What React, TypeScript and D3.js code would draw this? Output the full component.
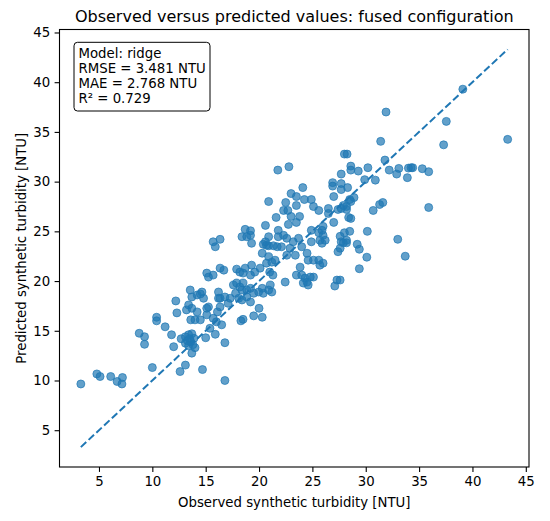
import React, { useEffect, useRef } from "react";
import * as d3 from "d3";

// observed vs predicted turbidity
const observed = [
  31.9, 37.55, 43.3, 31.4, 37.3, 28.0, 28.25, 31.8, 28.6, 28.6, 30.2, 29.3, 32.2, 33.1, 32.9, 34.0,
  34.25, 34.4, 35.3, 35.9, 33.9, 27.7, 29.9, 30.9, 27.7, 27.7, 28.3, 28.9, 28.5, 28.6, 27.7, 28.2,
  28.2, 30.7, 31.3, 31.6, 35.9, 28.4, 28.6, 28.0, 28.5, 30.15, 27.6, 27.9, 28.2, 29.2, 33.0, 27.6,
  29.4, 30.1, 33.7, 29.4, 27.6, 39.1, 22.8, 21.76, 24.1, 23.0, 23.5, 24.9, 26.9, 26.9, 24.25, 20.9,
  22.5, 23.5, 25.1, 25.6, 26.5, 26.5, 27.0, 27.4, 27.9, 22.3, 22.7, 21.6, 23.0, 23.8, 22.75, 23.5,
  20.6, 27.0, 26.0, 25.9, 24.9, 21.8, 18.7, 19.2, 18.4, 18.85, 19.2, 19.3, 15.7, 16.35, 15.9, 20.9,
  21.8, 22.3, 22.6, 20.4, 20.9, 21.35, 23.7, 24.0, 24.9, 25.6, 26.0, 25.9, 22.9, 3.3, 4.8, 5.1,
  6.1, 6.7, 7.15, 7.2, 10.0, 12.6, 13.1, 14.7, 8.77, 9.27, 9.27, 10.4, 10.4, 11.2, 11.8, 12.2,
  12.3, 12.0, 12.7, 13.1, 13.4, 13.7, 13.9, 13.1, 13.6, 14.0, 13.7, 15.0, 15.9, 13.55, 14.65, 13.7,
  14.2, 14.5, 14.8, 13.4, 13.7, 13.2, 14.2, 13.6, 14.0, 14.5, 15.1, 15.26, 15.7, 15.1, 15.7, 16.0,
  15.26, 16.2, 16.2, 16.8, 16.8, 16.5, 15.4, 15.1, 16.1, 16.35, 16.35, 16.8, 17.3, 17.1, 17.6, 17.9,
  18.2, 18.5, 18.4, 18.85, 19.2, 17.8, 18.1, 18.4, 18.85, 19.2, 19.5, 19.96, 20.3, 20.4, 20.0, 19.5,
  20.3, 18.5, 18.3, 20.9, 21.2, 21.05, 21.3, 20.7, 21.2, 21.5, 21.0, 22.45, 19.6, 20.1, 19.3, 18.7,
  18.5, 19.2, 17.9, 18.2, 16.35, 16.7, 20.3, 20.9, 20.7, 20.6, 21.7, 22.1, 23.4, 22.6, 23.85, 23.5,
  24.0, 24.3, 24.5, 24.8, 25.1, 24.15, 24.6, 24.6, 25.1, 25.6, 26.0, 25.7, 24.5, 23.2, 27.3, 27.1,
  27.4, 27.7, 28.2, 25.7, 26.2, 13.3, 13.5, 13.8, 13.4,
];
const predicted = [
  37.0, 36.06, 34.25, 34.05, 33.7, 32.77, 32.77, 32.17, 31.56, 31.16, 31.4, 31.06, 31.16, 31.33, 30.76, 31.36,
  31.4, 31.4, 31.3, 31.0, 30.4, 30.76, 30.2, 30.15, 29.8, 29.2, 29.4, 28.4, 28.2, 28.0, 27.3, 27.5,
  27.2, 27.1, 27.7, 27.9, 27.4, 26.4, 26.3, 24.86, 25.0, 25.0, 24.5, 23.85, 23.85, 23.7, 24.2, 23.3,
  23.2, 22.4, 22.5, 21.24, 20.1, 39.3, 31.5, 31.16, 29.4, 28.8, 28.5, 28.2, 29.9, 29.55, 28.2, 28.0,
  27.9, 27.6, 27.5, 27.1, 27.3, 26.8, 28.5, 27.2, 27.6, 27.1, 27.1, 26.4, 26.5, 26.5, 25.7, 25.9,
  25.6, 25.9, 25.5, 25.1, 25.1, 25.1, 25.2, 25.06, 24.46, 24.46, 24.6, 23.8, 23.95, 24.2, 23.45, 24.46,
  24.46, 24.6, 24.3, 23.7, 23.55, 23.55, 24.3, 23.45, 23.95, 24.86, 24.6, 23.8, 23.3, 9.65, 10.66, 10.4,
  10.4, 9.9, 9.65, 10.3, 11.3, 10.9, 11.55, 11.1, 14.75, 14.4, 13.64, 16.36, 16.0, 15.4, 14.6, 18.0,
  16.8, 13.4, 14.2, 14.4, 14.6, 14.7, 14.25, 13.75, 13.9, 13.3, 12.75, 14.3, 14.65, 19.1, 18.9, 18.4,
  18.6, 18.7, 18.27, 17.6, 17.26, 17.1, 16.9, 16.1, 16.1, 16.1, 20.8, 20.4, 20.6, 16.6, 16.26, 15.9,
  17.4, 18.27, 18.9, 13.8, 10.0, 15.6, 15.25, 17.26, 16.9, 17.4, 18.27, 18.4, 18.27, 17.76, 19.6, 19.8,
  19.4, 19.8, 19.1, 19.1, 19.27, 18.77, 18.27, 18.1, 18.4, 17.9, 18.77, 18.9, 19.27, 18.77, 17.26, 16.5,
  16.36, 16.15, 16.0, 19.1, 18.9, 19.6, 20.6, 21.8, 21.9, 22.1, 20.9, 19.9, 20.9, 21.3, 21.6, 21.3,
  20.8, 20.6, 21.2, 20.9, 21.3, 21.1, 22.8, 22.45, 23.6, 23.95, 23.45, 23.45, 22.6, 22.6, 21.4, 20.6,
  20.6, 20.3, 19.9, 20.4, 20.4, 19.8, 19.6, 22.1, 22.1, 22.1, 21.8, 21.6, 22.8, 23.95, 20.1, 19.5,
  22.95, 23.95, 24.1, 24.1, 24.1, 14.0, 14.2, 13.6, 13.5,
];
const ticks = [5, 10, 15, 20, 25, 30, 35, 40, 45];
const statsLines = ["Model: ridge", "RMSE = 3.481 NTU", "MAE = 2.768 NTU", "R\u00b2 = 0.729"];

const font = "'DejaVu Sans', sans-serif";

function ScatterChart() {
  const ref = useRef<SVGSVGElement | null>(null);

  useEffect(() => {
    var margin = { top: 29.5, right: 21, bottom: 54, left: 59.5 },
      width = 550 - margin.left - margin.right,
      height = 521 - margin.top - margin.bottom;

    var root = d3.select(ref.current);
    root.selectAll("*").remove();
    var svg = root.append("g").attr("transform", "translate(" + margin.left + "," + margin.top + ")");

    // shared limits: data range padded by 2 on each side
    var lo = Math.min(d3.min(observed)!, d3.min(predicted)!);
    var hi = Math.max(d3.max(observed)!, d3.max(predicted)!);
    var x = d3.scaleLinear().domain([lo - 2, hi + 2]).range([0, width]);
    var y = d3.scaleLinear().domain([lo - 2, hi + 2]).range([height, 0]);

    // points
    svg
      .selectAll("circle")
      .data(observed.map((d, i) => [d, predicted[i]]))
      .enter()
      .append("circle")
      .attr("cx", (d) => x(d[0]))
      .attr("cy", (d) => y(d[1]))
      .attr("r", 4)
      .style("fill", "#1f77b4")
      .style("fill-opacity", 0.7)
      .style("stroke", "#1f77b4")
      .style("stroke-opacity", 0.7)
      .style("stroke-width", 1);

    // identity line
    svg
      .append("line")
      .attr("x1", x(lo))
      .attr("y1", y(lo))
      .attr("x2", x(hi))
      .attr("y2", y(hi))
      .style("stroke", "#1f77b4")
      .style("stroke-width", 2)
      .style("stroke-dasharray", "7.4,3.2");

    // axes
    var xAxis = svg
      .append("g")
      .attr("transform", "translate(0," + height + ")")
      .call(d3.axisBottom(x).tickValues(ticks).tickSize(4.9).tickPadding(4.5).tickSizeOuter(0));
    var yAxis = svg
      .append("g")
      .call(d3.axisLeft(y).tickValues(ticks).tickSize(4.9).tickPadding(4.5).tickSizeOuter(0));
    [xAxis, yAxis].forEach((a) => {
      a.select(".domain").remove();
      a.selectAll("line").style("stroke", "#000").style("stroke-width", 1.1);
      a.selectAll("text").style("font-family", font).style("font-size", "13.3px").style("fill", "#000");
    });

    // frame
    svg
      .append("rect")
      .attr("width", width)
      .attr("height", height)
      .style("fill", "none")
      .style("stroke", "#000")
      .style("stroke-width", 1.1);

    // stats box
    svg
      .append("rect")
      .attr("x", 74 - margin.left)
      .attr("y", 42.3 - margin.top)
      .attr("width", 136)
      .attr("height", 68.7)
      .attr("rx", 3.5)
      .style("fill", "#fff")
      .style("stroke", "#000")
      .style("stroke-width", 1);
    svg
      .append("g")
      .selectAll("text")
      .data(statsLines)
      .enter()
      .append("text")
      .attr("x", 78.5 - margin.left)
      .attr("y", (d, i) => 58.3 - margin.top + i * 15)
      .style("font-family", font)
      .style("font-size", "13.3px")
      .text((d) => d);

    // title and labels
    svg
      .append("text")
      .attr("x", width / 2)
      .attr("y", 22 - margin.top)
      .attr("text-anchor", "middle")
      .style("font-family", font)
      .style("font-size", "16px")
      .text("Observed versus predicted values: fused configuration");
    svg
      .append("text")
      .attr("x", width / 2)
      .attr("y", 506.7 - margin.top)
      .attr("text-anchor", "middle")
      .style("font-family", font)
      .style("font-size", "13.3px")
      .text("Observed synthetic turbidity [NTU]");
    svg
      .append("text")
      .attr("transform", "translate(" + (25.5 - margin.left) + "," + height / 2 + ") rotate(-90)")
      .attr("text-anchor", "middle")
      .style("font-family", font)
      .style("font-size", "13.3px")
      .text("Predicted synthetic turbidity [NTU]");
  }, []);

  return (
    <svg
      ref={ref}
      width={550}
      height={521}
      style={{ position: "absolute", left: 0, top: 0, background: "#fff" }}
    />
  );
}

export default function App() {
  return <ScatterChart />;
}
